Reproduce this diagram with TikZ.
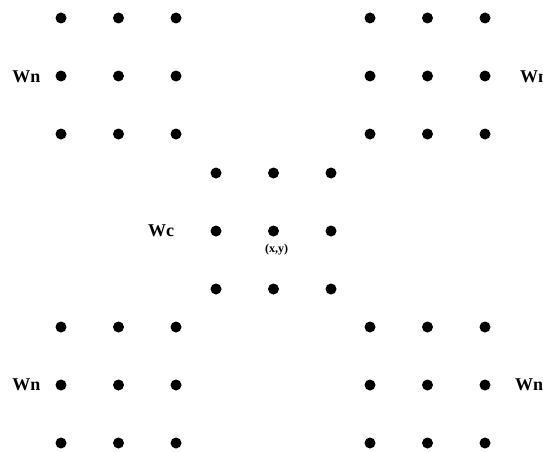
\documentclass[tikz,border=0pt]{standalone}
\usepackage{fontspec}
\setmainfont{Liberation Serif}
\usetikzlibrary{positioning}

\begin{document}
\begin{tikzpicture}[x=1pt, y=-1pt,
    pixel/.style={circle, fill=black, inner sep=0pt, minimum size=11pt},
    weight/.style={font=\bfseries\fontsize{18}{20}\selectfont, inner sep=0pt},
    coord/.style={font=\bfseries\fontsize{12}{14}\selectfont, inner sep=0pt}
]
\useasboundingbox (0,0) rectangle (543,452);

% 3x3 windows of pixels
\foreach \win/\ox/\oy in {nw/61/18, ne/370/18, c/216/173, sw/61/327, se/370/327}
  \foreach \i in {1,2,3}
    \foreach \j in {1,2,3}
      \node[pixel] (\win-\j-\i) at ({\ox+(\i-1)*57.5},{\oy+(\j-1)*58}) {};

% Window labels
\node[weight] (wn-nw) at (26.5,77) {Wn};
\node[weight] (wn-ne) at (534,77) {Wn};
\node[weight] (wc) at (161,231) {Wc};
\node[weight] (wn-sw) at (26.5,385) {Wn};
\node[weight] (wn-se) at (529,385) {Wn};

% Centre pixel
\node[coord, below=7pt of c-2-2, xshift=3pt] (xy) {(x,y)};

\end{tikzpicture}
\end{document}
